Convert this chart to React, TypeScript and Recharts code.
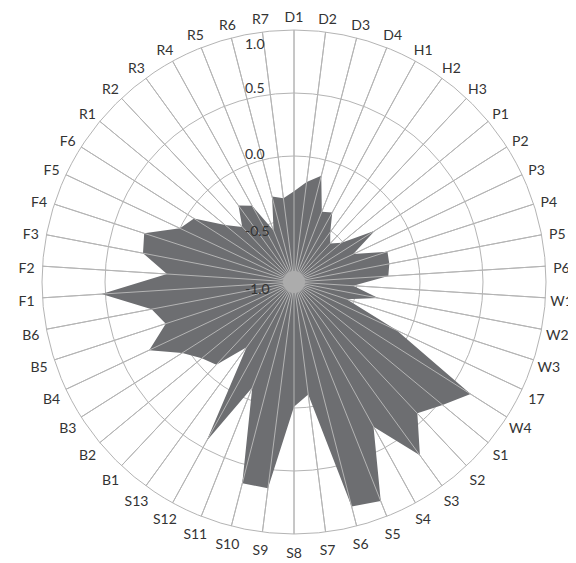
import { RadarChart, Radar, PolarGrid, PolarAngleAxis, PolarRadiusAxis } from 'recharts'

const categories = [
  'D1', 'D2', 'D3', 'D4', 'H1', 'H2', 'H3', 'P1', 'P2', 'P3', 'P4', 'P5', 'P6',
  'W1', 'W2', 'W3', '17', 'W4', 'S1', 'S2', 'S3', 'S4', 'S5', 'S6', 'S7', 'S8',
  'S9', 'S10', 'S11', 'S12', 'S13', 'B1', 'B2', 'B3', 'B4', 'B5', 'B6',
  'F1', 'F2', 'F3', 'F4', 'F5', 'F6', 'R1', 'R2', 'R3', 'R4', 'R5', 'R6', 'R7',
]

const values = [
  -0.28, -0.2, -0.13, -0.4, -0.37, -0.51, -0.58, -0.51, -0.24, -0.48, -0.22, -0.23, -0.25,
  -0.53, -0.32, -0.56, -0.1, 0.66, 0.53, 0.43, 0.7, 0.31, 0.87, 0.84, -0.1, -0.01,
  0.65, 0.65, -0.1, 0.44, -0.36, -0.1, -0.05, 0.05, 0.27, 0.07, 0.15,
  0.53, 0.01, 0.22, 0.25, 0.0, -0.06, -0.29, -0.4, -0.25, -0.31, -0.56, -0.3, -0.33,
]

const radiusTicks = [-1, -0.5, 0, 0.5, 1]

const data = categories.map((name, i) => ({ name, value: values[i] }))

const CX = 286
const CY = 274
const R = 252
const LABEL_R = 268
const FONT = 'Lato, "Noto Sans", sans-serif'
const GRID = '#b4b4b4'
const TEXT = '#333'

// the labels sit a bit off their rings in the original
const labelShift: Record<string, number> = { '-1': 6, '-0.5': 11, '0': -3, '0.5': -6, '1': 13 }

function RadiusTick({ y, payload }: any) {
  return (
    <text x={CX - 49} y={y + (labelShift[String(payload.value)] ?? 0)} textAnchor="start" dominantBaseline="central"
      fill={TEXT} fontSize={14} fontFamily={FONT}>
      {Number(payload.value).toFixed(1)}
    </text>
  )
}

// polygon, then the spokes over it, then the category names round the rim
function RadarShape({ points }: any) {
  if (!points || !points.length) return null
  const poly = points.map((p: any) => `${p.x},${p.y}`).join(' ')
  return (
    <g>
      <polygon points={poly} fill="#6d6e71" stroke="none" />
      {points.map((p: any, i: number) => {
        const a = (-p.angle * Math.PI) / 180
        return (
          <line key={'s' + i} x1={p.cx} y1={p.cy} x2={p.cx + R * Math.cos(a)} y2={p.cy + R * Math.sin(a)}
            stroke={GRID} strokeWidth={1} />
        )
      })}
      {/* spokes merge into a plain grey disc at the hub */}
      <circle cx={points[0].cx} cy={points[0].cy} r={11} fill="#acacac" />
      {points.map((p: any, i: number) => {
        const a = (-p.angle * Math.PI) / 180
        return (
          <text key={'t' + i} x={p.cx + LABEL_R * Math.cos(a)} y={p.cy + 2 + LABEL_R * Math.sin(a)}
            textAnchor="middle" dominantBaseline="central" fill={TEXT} fontSize={14} fontFamily={FONT}>
            {p.payload?.name}
          </text>
        )
      })}
    </g>
  )
}

export default function App() {
  return (
    <RadarChart width={568} height={555} data={data} cx={CX} cy={CY} outerRadius={R}
      startAngle={90} endAngle={-270}>
      <PolarGrid gridType="circle" stroke={GRID} />
      <Radar dataKey="value" fill="#6d6e71" fillOpacity={1} stroke="none" label={false} isAnimationActive={false}
        shape={(props: any) => <RadarShape {...props} />} />
      <PolarAngleAxis dataKey="name" axisLine={false} tickLine={false} tick={false} />
      <PolarRadiusAxis angle={90} domain={[-1, 1]} ticks={radiusTicks as any} tickCount={5}
        axisLine={false} tickLine={false} tick={<RadiusTick />} />
    </RadarChart>
  )
}
